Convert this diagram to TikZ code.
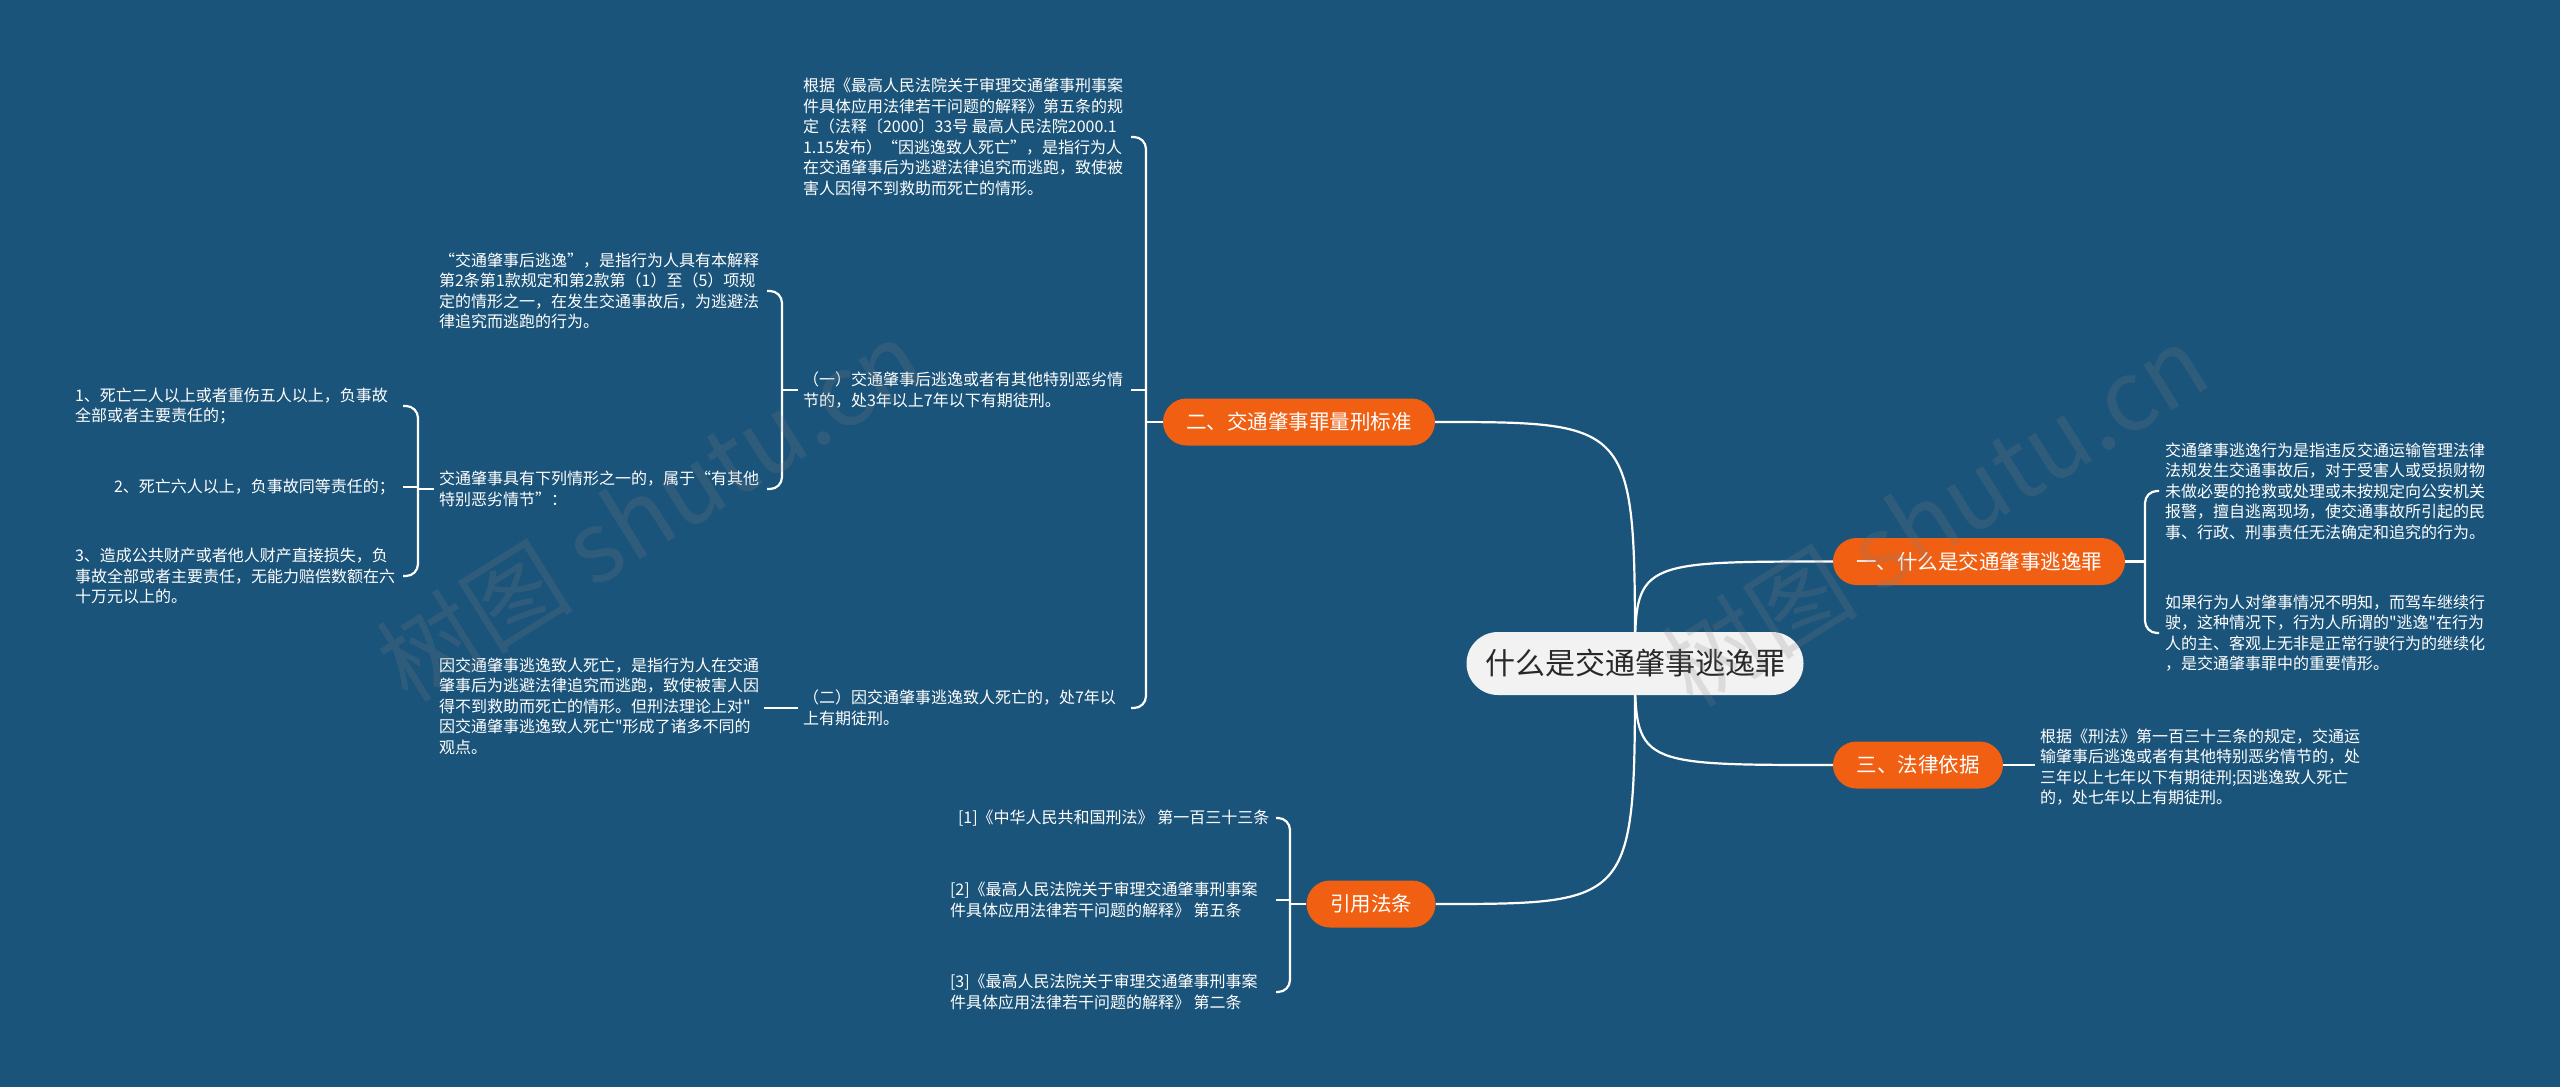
\documentclass[tikz,border=0pt]{standalone}
\usepackage{fontspec}
\setmainfont{Noto Sans CJK SC}
\newfontfamily\nomapfont[Ligatures=TeXOff]{Noto Sans CJK SC}
\definecolor{bgblue}{RGB}{27,84,122}
\definecolor{mmorange}{RGB}{240,95,18}
\definecolor{rootfill}{RGB}{242,242,242}
\definecolor{roottext}{RGB}{40,40,40}
\newcommand{\sq}{{\nomapfont"}}
\pgfdeclarelayer{bglayer}
\pgfdeclarelayer{edgelayer}
\pgfdeclarelayer{wmlayer}
\pgfsetlayers{bglayer,edgelayer,main,wmlayer}
\begin{document}
\begin{tikzpicture}[x=1pt,y=-1pt,
  txt/.style={text=white, font=\fontsize{16}{20.5}\selectfont, align=left, inner sep=0pt, outer sep=5pt, anchor=west},
  mainnode/.style={fill=mmorange, text=white, font=\fontsize{20.5}{24}\selectfont, rounded corners=23.5pt, minimum height=47pt, inner sep=0pt},
  rootnode/.style={fill=rootfill, text=roottext, font=\fontsize{30}{34}\selectfont, rounded corners=31.5pt, minimum height=63pt, minimum width=337pt, inner sep=0pt},
  link/.style={draw=white, line width=2.2pt},
  brace/.style={draw=white, line width=2.2pt, rounded corners=12pt},
  wm/.style={text=gray, opacity=0.2, font=\fontsize{98}{100}\selectfont, rotate=32, inner sep=0pt},
]
\useasboundingbox (0,0) rectangle (2560,1087);
\begin{pgfonlayer}{bglayer}
\fill[bgblue] (0,0) rectangle (2560,1087);
\end{pgfonlayer}

% nodes
\node[rootnode] (root) at (1635,663.5) {什么是交通肇事逃逸罪};
\node[mainnode, minimum width=272pt] (m2) at (1299,422) {二、交通肇事罪量刑标准};
\node[mainnode, minimum width=292pt] (m1) at (1979,561.5) {一、什么是交通肇事逃逸罪};
\node[mainnode, minimum width=170pt] (m3) at (1918,765) {三、法律依据};
\node[mainnode, minimum width=129pt] (m4) at (1371,904) {引用法条};

\node[txt] (t2a) at (798,137) {根据《最高人民法院关于审理交通肇事刑事案\\件具体应用法律若干问题的解释》第五条的规\\定（法释〔2000〕33号 最高人民法院2000.1\\1.15发布）“因逃逸致人死亡”，是指行为人\\在交通肇事后为逃避法律追究而逃跑，致使被\\害人因得不到救助而死亡的情形。};
\node[txt] (t2b) at (798,390) {（一）交通肇事后逃逸或者有其他特别恶劣情\\节的，处3年以上7年以下有期徒刑。};
\node[txt] (t2c) at (798,708) {（二）因交通肇事逃逸致人死亡的，处7年以\\上有期徒刑。};

\node[txt] (ta) at (434,291) {“交通肇事后逃逸”，是指行为人具有本解释\\第2条第1款规定和第2款第（1）至（5）项规\\定的情形之一，在发生交通事故后，为逃避法\\律追究而逃跑的行为。};
\node[txt] (tb) at (434,489) {交通肇事具有下列情形之一的，属于“有其他\\特别恶劣情节”：};
\node[txt] (tc) at (434,706) {因交通肇事逃逸致人死亡，是指行为人在交通\\肇事后为逃避法律追究而逃跑，致使被害人因\\得不到救助而死亡的情形。但刑法理论上对\sq\\因交通肇事逃逸致人死亡\sq 形成了诸多不同的\\观点。};

\node[txt] (s1) at (70,406) {1、死亡二人以上或者重伤五人以上，负事故\\全部或者主要责任的；};
\node[txt] (s2) at (109,487) {2、死亡六人以上，负事故同等责任的；};
\node[txt] (s3) at (70,576) {3、造成公共财产或者他人财产直接损失，负\\事故全部或者主要责任，无能力赔偿数额在六\\十万元以上的。};

\node[txt] (t1) at (2160,491) {交通肇事逃逸行为是指违反交通运输管理法律\\法规发生交通事故后，对于受害人或受损财物\\未做必要的抢救或处理或未按规定向公安机关\\报警，擅自逃离现场，使交通事故所引起的民\\事、行政、刑事责任无法确定和追究的行为。};
\node[txt] (t1b) at (2160,633) {如果行为人对肇事情况不明知，而驾车继续行\\驶，这种情况下，行为人所谓的\sq 逃逸\sq 在行为\\人的主、客观上无非是正常行驶行为的继续化\\，是交通肇事罪中的重要情形。};

\node[txt] (t3) at (2035,767) {根据《刑法》第一百三十三条的规定，交通运\\输肇事后逃逸或者有其他特别恶劣情节的，处\\三年以上七年以下有期徒刑;因逃逸致人死亡\\的，处七年以上有期徒刑。};

\node[txt] (r1) at (953,818) {[1]《中华人民共和国刑法》 第一百三十三条};
\node[txt] (r2) at (945,900) {[2]《最高人民法院关于审理交通肇事刑事案\\件具体应用法律若干问题的解释》 第五条};
\node[txt] (r3) at (945,992) {[3]《最高人民法院关于审理交通肇事刑事案\\件具体应用法律若干问题的解释》 第二条};

% bracket coordinates
\coordinate (b2x) at (1146,0);
\coordinate (b2top) at (1131,137);
\coordinate (b2bot) at (1131,708);
\coordinate (bax) at (782,0);
\coordinate (batop) at (767,291);
\coordinate (babot) at (767,489);
\coordinate (bsx) at (418,0);
\coordinate (bstop) at (403,406);
\coordinate (bsbot) at (403,576);
\coordinate (b1x) at (2145,0);
\coordinate (b1top) at (2159,491);
\coordinate (b1bot) at (2159,633);
\coordinate (b4x) at (1290,0);
\coordinate (b4top) at (1276,818);
\coordinate (b4bot) at (1276,992);

\begin{pgfonlayer}{edgelayer}
% root curves
\draw[link] (root.center) .. controls (root.center |- m2.east) .. (m2.east);
\draw[link] (root.center) .. controls (root.center |- m1.west) .. (m1.west);
\draw[link] (root.center) .. controls (root.center |- m3.west) .. (m3.west);
\draw[link] (root.center) .. controls (root.center |- m4.east) .. (m4.east);

% branch 二
\draw[link] (m2.west) -- (m2.west -| b2x);
\draw[brace] (b2top) -- (b2top -| b2x) -- (b2bot -| b2x) -- (b2bot);
\draw[link] (b2x |- t2b.east) -- (b2top |- t2b.east);

% (一) children
\draw[link] (t2b.west) -- (t2b.west -| bax);
\draw[brace] (batop) -- (batop -| bax) -- (babot -| bax) -- (babot);

% sub items
\draw[link] (tb.west) -- (tb.west -| bsx);
\draw[brace] (bstop) -- (bstop -| bsx) -- (bsbot -| bsx) -- (bsbot);
\draw[link] (bsx |- s2.east) -- (bstop |- s2.east);

% (二) child
\draw[link] (t2c.west) -- (t2c.west -| tc.east);

% branch 一
\draw[link] (m1.east) -- (m1.east -| b1x);
\draw[brace] (b1top) -- (b1top -| b1x) -- (b1bot -| b1x) -- (b1bot);

% branch 三
\draw[link] (m3.east) -- (m3.east -| t3.west);

% 引用法条
\draw[link] (m4.west) -- (m4.west -| b4x);
\draw[brace] (b4top) -- (b4top -| b4x) -- (b4bot -| b4x) -- (b4bot);
\draw[link] (b4x |- r2.east) -- (b4top |- r2.east);
\end{pgfonlayer}

\begin{pgfonlayer}{wmlayer}
\node[wm] (wm1) at (650,510) {树图 shutu.cn};
\node[wm] (wm2) at (1935,515) {树图 shutu.cn};
\end{pgfonlayer}
\end{tikzpicture}
\end{document}
